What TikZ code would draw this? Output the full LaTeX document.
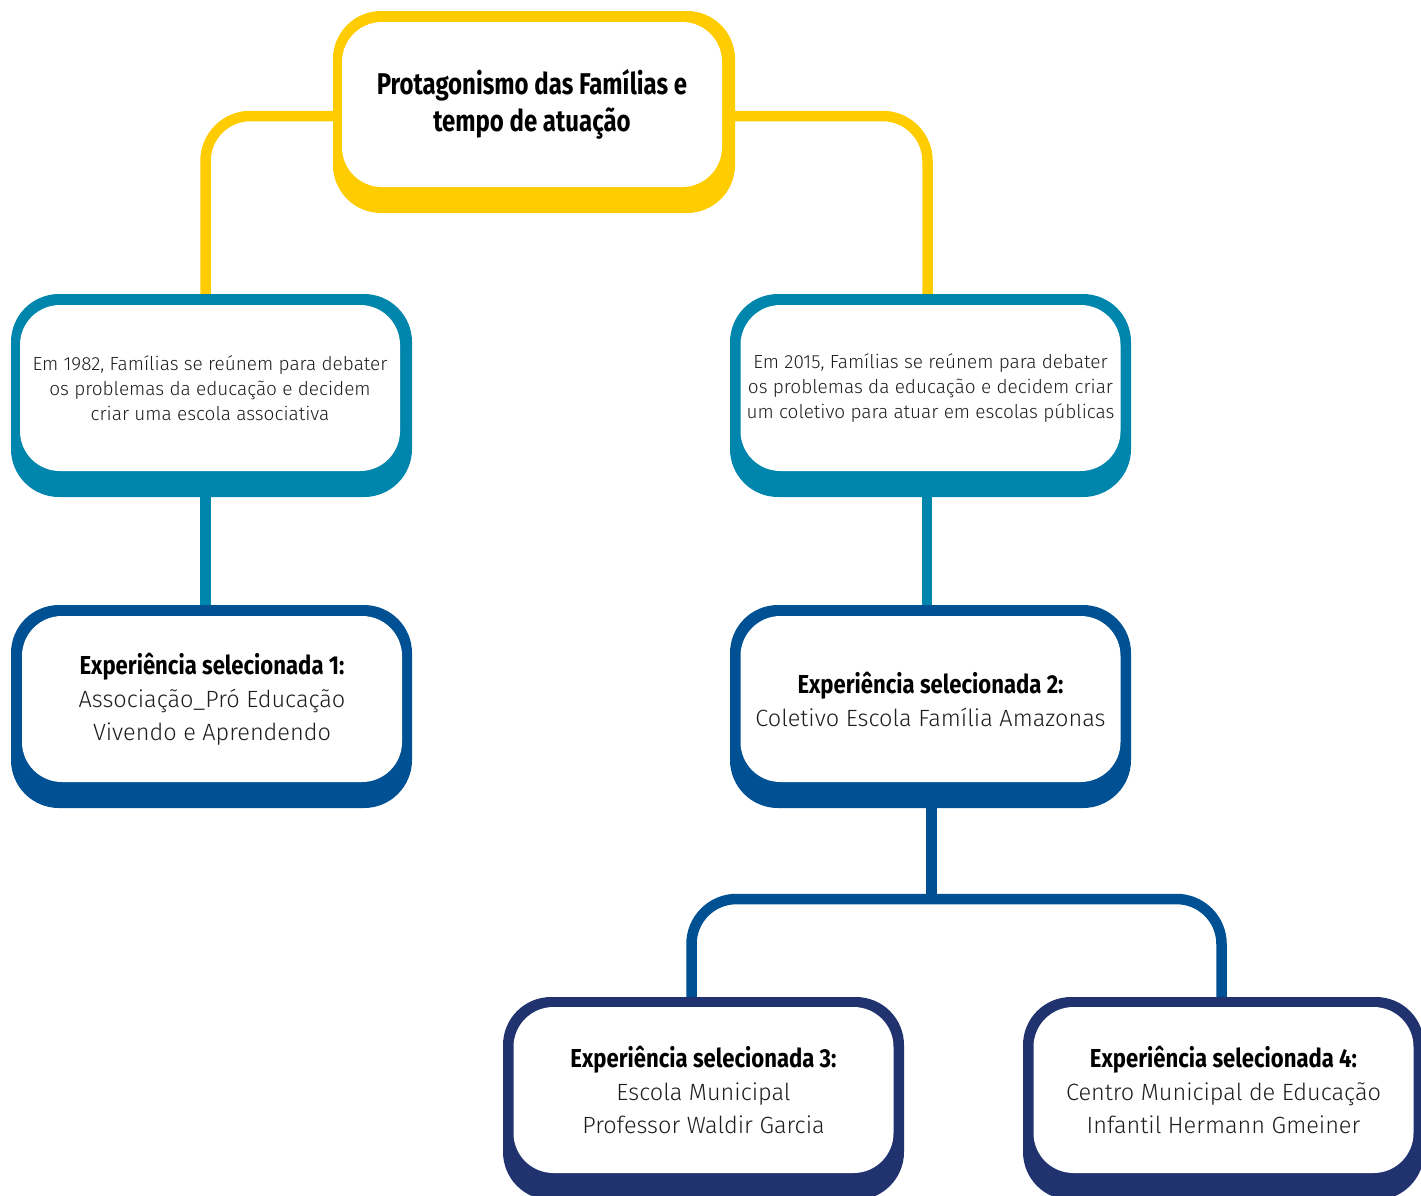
\documentclass[tikz,border=0pt]{standalone}
\usepackage{fontspec}
\setmainfont{Fira Sans Light}
\newfontfamily\headfont[FakeStretch=0.8]{Fira Sans Bold}
\newfontfamily\exphfont[FakeStretch=0.85]{Fira Sans Bold}
\newfontfamily\bodyfont{Fira Sans Light}
\usetikzlibrary{backgrounds}
\definecolor{cyel}{RGB}{255,204,0}
\definecolor{cteal}{RGB}{0,134,173}
\definecolor{cblue}{RGB}{0,80,148}
\definecolor{cnavy}{RGB}{33,51,110}
\definecolor{ctxt}{RGB}{30,30,30}
\tikzset{
  outerbox/.style={fill=#1, rounded corners=48pt, inner sep=0pt, outer sep=0pt,
    minimum width=401pt, minimum height=203pt},
  innerbox/.style={fill=white, rounded corners=40pt, inner sep=0pt, outer sep=0pt,
    minimum width=380pt, minimum height=166pt, align=center, text=ctxt},
  conn/.style={line width=10.5pt, rounded corners=45pt},
  subtext/.style={font=\bodyfont\fontsize{19}{25}\selectfont},
  exptext/.style={font=\bodyfont\fontsize{23.5}{33}\selectfont},
}
\newcommand{\exphead}[1]{{\exphfont\fontsize{26}{33}\selectfont\color{black}#1}}
\begin{document}
\begin{tikzpicture}[x=1pt,y=-1pt]
\useasboundingbox (0,0) rectangle (1421,1195);
% top
\node[outerbox=cyel, minimum width=402pt, minimum height=202pt] (top) at (534,112) {};
\node[innerbox, minimum height=165pt, text=black, font=\headfont\fontsize{30}{37}\selectfont] (toptext) at (532,104.5) {Protagonismo das Famílias e\\tempo de atuação};
% level 1
\node[outerbox=cteal] (l1) at (211.5,395.5) {};
\node[innerbox, subtext] (l1text) at (210,388) {Em 1982, Famílias se reúnem para debater\\os problemas da educação e decidem\\criar uma escola associativa};
\node[outerbox=cteal] (r1) at (930.5,395.5) {};
\node[innerbox, subtext] (r1text) at (930.5,388) {Em 2015, Famílias se reúnem para debater\\os problemas da educação e decidem criar\\um coletivo para atuar em escolas públicas};
% level 2
\node[outerbox=cblue] (l2) at (211.5,706.5) {};
\node[innerbox, exptext] (l2text) at (212,699) {\exphead{Experiência selecionada 1:}\\Associação\_Pró Educação\\Vivendo e Aprendendo};
\node[outerbox=cblue] (r2) at (930.5,706.5) {};
\node[innerbox, exptext] (r2text) at (930.5,699) {\exphead{Experiência selecionada 2:}\\Coletivo Escola Família Amazonas};
% level 3
\node[outerbox=cnavy] (b3) at (703.5,1098.5) {};
\node[innerbox, exptext] (b3text) at (703.5,1090) {\exphead{Experiência selecionada 3:}\\Escola Municipal\\Professor Waldir Garcia};
\node[outerbox=cnavy] (b4) at (1223.5,1098.5) {};
\node[innerbox, exptext] (b4text) at (1223.5,1090) {\exphead{Experiência selecionada 4:}\\Centro Municipal de Educação\\Infantil Hermann Gmeiner};
\coordinate (split) at (931.5,899);
% connectors
\begin{scope}[on background layer]
\draw[conn, cyel] ([yshift=-4pt]top.west) -| ([xshift=-6pt]l1.north);
\draw[conn, cyel] ([yshift=-4pt]top.east) -| ([xshift=-3pt]r1.north);
\draw[conn, cteal] ([xshift=-6pt]l1.south) -- ([xshift=-6pt]l2.north);
\draw[conn, cteal] ([xshift=-3.5pt]r1.south) -- ([xshift=-3.5pt]r2.north);
\draw[conn, cblue] ([xshift=1pt]r2.south) -- (split);
\draw[conn, cblue] ([xshift=-12pt]b3.north) |- (split) -| ([xshift=-2pt]b4.north);
\end{scope}
\end{tikzpicture}
\end{document}
